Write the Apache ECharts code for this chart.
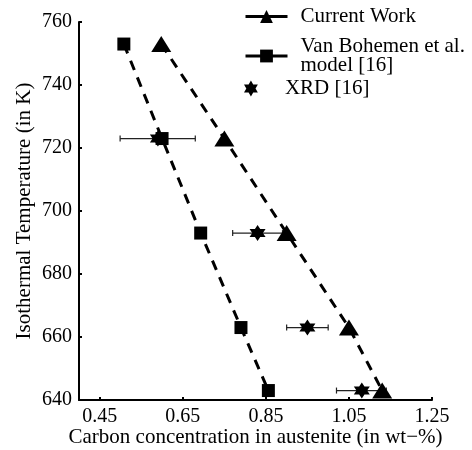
<!DOCTYPE html>
<html><head><meta charset="utf-8">
<script src="https://cdn.jsdelivr.net/npm/echarts@6/dist/echarts.min.js"></script>
<style>html,body{margin:0;padding:0;background:#fff}#c{width:472px;height:450px}</style>
</head><body><div id="c"></div>
<script>
const temps = [753, 723, 693, 663, 643];
const currentWork = [0.598, 0.750, 0.900, 1.050, 1.130];
const vanBohemen = [0.508, 0.600, 0.693, 0.790, 0.856];
const xrdTemps = [723, 693, 663, 643];
const xrdValues = [0.590, 0.830, 0.950, 1.081];
const xrdLow = [0.499, 0.770, 0.900, 1.020];
const xrdHigh = [0.680, 0.890, 1.000, 1.140];
const xTicks = [0.45, 0.65, 0.85, 1.05, 1.25];
const names = ['Current Work', 'Van Bohemen et al.\nmodel [16]', 'XRD [16]'];

const font = 'Liberation Serif';
const star = 'path://M0,-10 L2.887,-5 L8.66,-5 L5.774,0 L8.66,5 L2.887,5 L0,10 L-2.887,5 L-8.66,5 L-5.774,0 L-8.66,-5 L-2.887,-5 Z';

const legendBase = {
  orient: 'vertical', left: 239, itemWidth: 42, itemHeight: 16,
  textStyle: {fontFamily: font, fontSize: 21, color: '#000', lineHeight: 19, padding: [0, 0, 0, 8]},
  lineStyle: {type: 'solid', width: 3}
};

const chart = echarts.init(document.getElementById('c'));
chart.setOption({
  animation: false,
  grid: {left: 79, right: 40, top: 22, bottom: 50, outerBoundsMode: 'none', containLabel: false},
  legend: [
    Object.assign({}, legendBase, {top: 1, data: [names[0]]}),
    Object.assign({}, legendBase, {top: 31, data: [names[1]]}),
    Object.assign({}, legendBase, {top: 73, data: [names[2]]})
  ],
  xAxis: {
    type: 'value', min: 0.4, max: 1.25,
    name: 'Carbon concentration in austenite (in wt\u2212%)', nameLocation: 'middle', nameGap: 27,
    nameMoveOverlap: false,
    nameTextStyle: {fontFamily: font, fontSize: 21, color: '#000'},
    axisLine: {show: true, lineStyle: {color: '#000', width: 2}},
    axisTick: {show: true, inside: true, length: 3, customValues: xTicks, lineStyle: {color: '#000', width: 2}},
    axisLabel: {customValues: xTicks, fontFamily: font, fontSize: 20, color: '#000', margin: 7,
      formatter: v => v.toFixed(2)},
    splitLine: {show: false}
  },
  yAxis: {
    type: 'value', min: 640, max: 760, interval: 20,
    name: 'Isothermal Temperature (in K)', nameLocation: 'middle', nameGap: 44,
    nameMoveOverlap: false,
    nameTextStyle: {fontFamily: font, fontSize: 21, color: '#000'},
    axisLine: {show: true, lineStyle: {color: '#000', width: 2}},
    axisTick: {show: true, inside: true, length: 3, lineStyle: {color: '#000', width: 2}},
    axisLabel: {fontFamily: font, fontSize: 20, color: '#000', margin: 7},
    splitLine: {show: false}
  },
  series: [
    {
      name: names[0], type: 'line',
      data: currentWork.map((v, i) => [v, temps[i]]),
      symbol: 'triangle', symbolSize: [20, 16],
      itemStyle: {color: '#000'},
      lineStyle: {color: '#000', width: 3, type: [10, 8]}
    },
    {
      name: names[1], type: 'line',
      data: vanBohemen.map((v, i) => [v, temps[i]]),
      symbol: 'rect', symbolSize: 13,
      itemStyle: {color: '#000'},
      lineStyle: {color: '#000', width: 3, type: [10, 8]}
    },
    {
      name: 'xrdErr', type: 'custom',
      data: xrdLow.map((v, i) => [v, xrdHigh[i], xrdTemps[i]]),
      renderItem: function (params, api) {
        const a = api.coord([api.value(0), api.value(2)]);
        const b = api.coord([api.value(1), api.value(2)]);
        const s = {stroke: '#222', lineWidth: 1.2};
        return {type: 'group', children: [
          {type: 'line', shape: {x1: a[0], y1: a[1], x2: b[0], y2: b[1]}, style: s},
          {type: 'line', shape: {x1: a[0], y1: a[1] - 3, x2: a[0], y2: a[1] + 3}, style: s},
          {type: 'line', shape: {x1: b[0], y1: b[1] - 3, x2: b[0], y2: b[1] + 3}, style: s}
        ]};
      },
      z: 1
    },
    {
      name: names[2], type: 'scatter',
      data: xrdValues.map((v, i) => [v, xrdTemps[i]]),
      symbol: star, symbolSize: 16,
      itemStyle: {color: '#000', opacity: 1}, z: 3
    }
  ]
});
</script></body></html>
